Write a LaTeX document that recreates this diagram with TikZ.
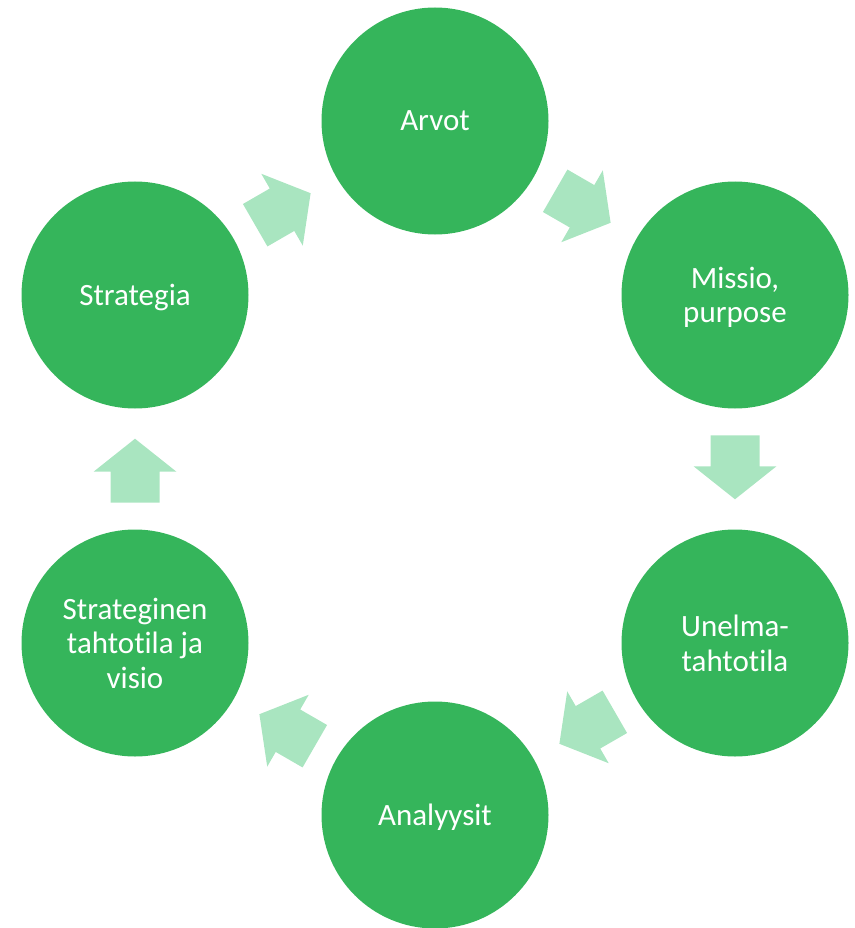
\documentclass[tikz,border=0pt]{standalone}
\usepackage{fontspec}
\setmainfont{Carlito}[Ligatures={NoCommon,NoContextual}]
\usetikzlibrary{calc}
\definecolor{circgreen}{RGB}{53,181,91}
\definecolor{arrowgreen}{RGB}{169,229,192}
\begin{document}
\begin{tikzpicture}[x=1pt,y=1pt,
  bubble/.style={circle, fill=circgreen, minimum size=227pt, inner sep=0pt,
    text=white, align=center, font=\fontsize{31}{34.5}\selectfont, text depth=0pt},
  blockarrow/.pic={\fill[arrowgreen] (-32,-24.5) -- (-1,-24.5) -- (-1,-41.5) -- (32,0)
    -- (-1,41.5) -- (-1,24.5) -- (-32,24.5) -- cycle;}]
\useasboundingbox (0,0) rectangle (854,-928);
\node[bubble] (arvot) at (435,-121) {Arvot};
\node[bubble] (missio) at (735,-295) {Missio,\\purpose};
\node[bubble] (unelma) at (735,-643) {Unelma-\\tahtotila};
\node[bubble] (analyysit) at (435,-815) {Analyysit};
\node[bubble] (tahto) at (135,-643) {Strateginen\\tahtotila ja\\visio};
\node[bubble] (strategia) at (135,-295) {Strategia};
\pic[rotate=30] at ($(strategia)!0.493!(arvot)$) {blockarrow};
\pic[rotate=-30] at ($(arvot)!0.493!(missio)$) {blockarrow};
\pic[rotate=-90] at ($(missio)!0.495!(unelma)$) {blockarrow};
\pic[rotate=-150] at ($(unelma)!0.493!(analyysit)$) {blockarrow};
\pic[rotate=150] at ($(analyysit)!0.493!(tahto)$) {blockarrow};
\pic[rotate=90] at ($(tahto)!0.495!(strategia)$) {blockarrow};
\end{tikzpicture}
\end{document}
